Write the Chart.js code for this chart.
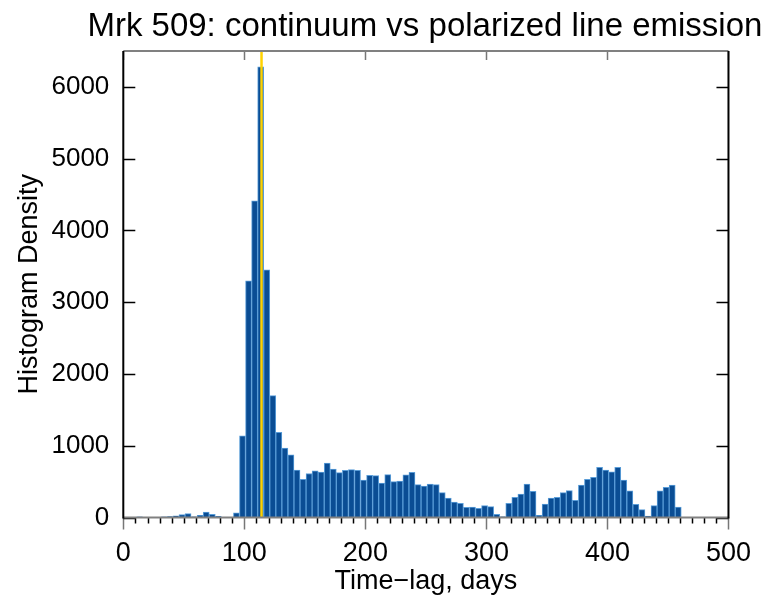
<!DOCTYPE html>
<html>
<head>
<meta charset="utf-8">
<script src="https://cdn.jsdelivr.net/npm/chart.js@4.4.1/dist/chart.umd.min.js"></script>
<style>
  html, body { margin: 0; padding: 0; background: #fff; }
  #wrap { width: 771px; height: 599px; }
</style>
</head>
<body>
<div id="wrap"><canvas id="chart" width="771" height="599"></canvas></div>
<script>
// bin centres (days) of the time-lag histogram, 5-day bins
const lagDays = [
  13.5, 18.5, 23.5, 28.5, 33.5, 38.5, 43.5, 48.5, 53.5, 58.5,
  63.5, 68.5, 73.5, 78.5, 83.5, 88.5, 93.5, 98.5, 103.5, 108.5,
  113.5, 118.5, 123.5, 128.5, 133.5, 138.5, 143.5, 148.5, 153.5, 158.5,
  163.5, 168.5, 173.5, 178.5, 183.5, 188.5, 193.5, 198.5, 203.5, 208.5,
  213.5, 218.5, 223.5, 228.5, 233.5, 238.5, 243.5, 248.5, 253.5, 258.5,
  263.5, 268.5, 273.5, 278.5, 283.5, 288.5, 293.5, 298.5, 303.5, 308.5,
  313.5, 318.5, 323.5, 328.5, 333.5, 338.5, 343.5, 348.5, 353.5, 358.5,
  363.5, 368.5, 373.5, 378.5, 383.5, 388.5, 393.5, 398.5, 403.5, 408.5,
  413.5, 418.5, 423.5, 428.5, 433.5, 438.5, 443.5, 448.5, 453.5, 458.5
];

const density = [
  8, 6, 6, 6, 8, 12, 25, 40, 55, 10,
  30, 75, 45, 15, 5, 5, 65, 1137, 3298, 4414,
  6279, 3452, 1699, 1188, 969, 872, 662, 532, 613, 650,
  632, 758, 676, 625, 658, 667, 658, 523, 588, 583,
  481, 597, 499, 509, 593, 628, 457, 439, 467, 457,
  346, 272, 216, 198, 142, 146, 128, 165, 151, 45,
  11, 198, 281, 328, 467, 365, 31, 188, 272, 281,
  346, 374, 240, 453, 532, 560, 700, 662, 635, 700,
  523, 370, 182, 109, 21, 165, 370, 421, 453, 146
];

// peak marker (yellow line)
const peakLag = 114.2;

const xRange = [0, 500];
const yRange = [0, 6500];
const xTicks = [0, 100, 200, 300, 400, 500];
const yTicks = [0, 1000, 2000, 3000, 4000, 5000, 6000];
const xMinorStep = 10;

const titleText = 'Mrk 509: continuum vs polarized line emission';
const xTitle = 'Time\u2212lag, days';
const yTitle = 'Histogram Density';

const FONT = '"Liberation Sans", Arial, Helvetica, sans-serif';
Chart.defaults.font.family = FONT;
Chart.defaults.color = '#000';

// frame, tick marks and title drawn like the original plot
const frameTicks = {
  id: 'frameTicks',
  afterDraw(chart) {
    const { ctx, chartArea: area } = chart;
    const xs = chart.scales.x, ys = chart.scales.y;
    ctx.save();
    ctx.lineWidth = 1.5;
    for (let v = xRange[0]; v <= xRange[1]; v += xMinorStep) {
      const px = Math.round(xs.getPixelForValue(v)) + 0.5;
      const major = xTicks.includes(v);
      ctx.strokeStyle = major ? '#777' : '#000';
      ctx.beginPath();
      ctx.moveTo(px, area.bottom);
      ctx.lineTo(px, area.bottom + (major ? 12 : 6));
      if (major) {
        ctx.moveTo(px, area.top);
        ctx.lineTo(px, area.top + 9);
      }
      ctx.stroke();
    }
    ctx.strokeStyle = '#000';
    yTicks.forEach(v => {
      const py = Math.round(ys.getPixelForValue(v)) + 0.5;
      ctx.beginPath();
      ctx.moveTo(area.left, py);
      ctx.lineTo(area.left + 12, py);
      ctx.moveTo(area.right, py);
      ctx.lineTo(area.right - 12, py);
      ctx.stroke();
    });
    ctx.lineWidth = 2;
    ctx.strokeStyle = '#808080';
    ctx.beginPath();
    ctx.moveTo(area.left, area.top);
    ctx.lineTo(area.right, area.top);
    ctx.moveTo(area.left, area.bottom);
    ctx.lineTo(area.right, area.bottom);
    ctx.stroke();
    ctx.strokeStyle = '#000';
    ctx.beginPath();
    ctx.moveTo(area.left, area.top);
    ctx.lineTo(area.left, area.bottom + 1);
    ctx.moveTo(area.right, area.top);
    ctx.lineTo(area.right, area.bottom + 1);
    ctx.stroke();

    // title centred over the plot box, wider than the box itself
    ctx.fillStyle = '#000';
    ctx.font = '33px ' + FONT;
    ctx.textAlign = 'center';
    ctx.textBaseline = 'middle';
    ctx.fillText(titleText, (area.left + area.right) / 2 - 1, area.top - 24);
    ctx.restore();
  }
};

const ctx = document.getElementById('chart').getContext('2d');
new Chart(ctx, {
  type: 'bar',
  data: {
    datasets: [
      {
        type: 'line',
        label: 'peak',
        data: [{ x: peakLag, y: yRange[0] }, { x: peakLag, y: yRange[1] }],
        borderColor: '#ffd200',
        borderWidth: 2.5,
        pointRadius: 0,
        order: 0
      },
      {
        label: 'density',
        data: lagDays.map((d, i) => ({ x: d, y: density[i] })),
        backgroundColor: '#0a4d94',
        borderColor: '#5a9dd8',
        borderWidth: 1,
        barPercentage: 1,
        categoryPercentage: 1,
        order: 1
      }
    ]
  },
  options: {
    responsive: false,
    animation: false,
    devicePixelRatio: 1,
    layout: { padding: { left: 0, right: 39, top: 51, bottom: 0 } },
    plugins: {
      legend: { display: false },
      tooltip: { enabled: false },
      title: { display: false }
    },
    scales: {
      x: {
        type: 'linear',
        min: xRange[0],
        max: xRange[1],
        offset: false,
        grid: { display: true, drawOnChartArea: false, drawTicks: false },
        border: { display: false },
        afterBuildTicks(s) { s.ticks = xTicks.map(v => ({ value: v })); },
        ticks: { padding: 20, font: { size: 27 }, maxRotation: 0, autoSkip: false, callback: v => String(v) },
        title: { display: true, text: xTitle, font: { size: 27 }, padding: { top: 0, bottom: 1 } },
        afterFit(s) { s.height = 81.5; }
      },
      y: {
        min: yRange[0],
        max: yRange[1],
        grid: { display: true, drawOnChartArea: false, drawTicks: false },
        border: { display: false },
        afterBuildTicks(s) { s.ticks = yTicks.map(v => ({ value: v })); },
        ticks: { padding: 14, font: { size: 26 }, autoSkip: false, callback: v => String(v) },
        title: { display: true, text: yTitle, font: { size: 27 }, padding: { top: 13, bottom: 0 } },
        afterFit(s) { s.width = 123.3; }
      }
    }
  },
  plugins: [frameTicks]
});
</script>
</body>
</html>
